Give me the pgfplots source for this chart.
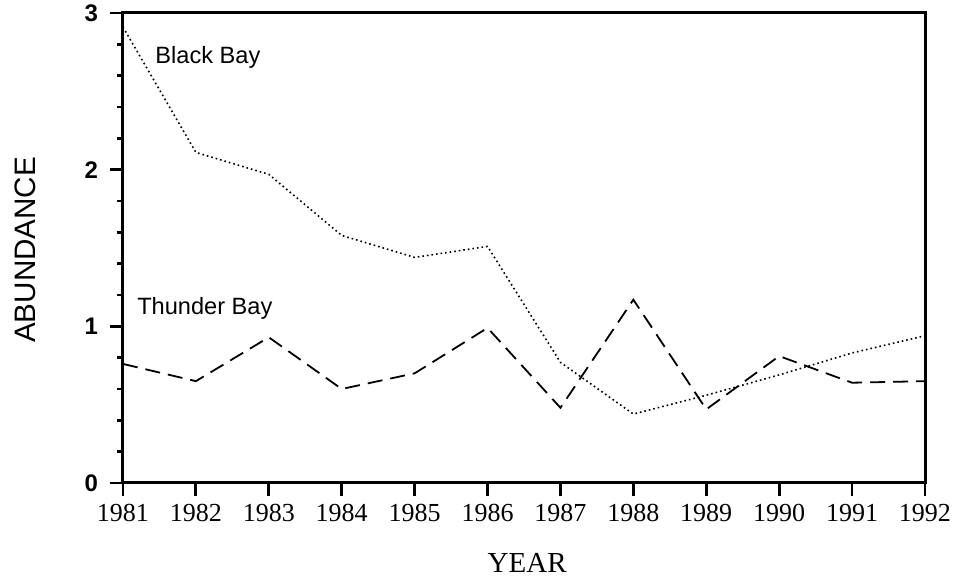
\documentclass[border=0pt]{standalone}
\usepackage{pgfplots}
\pgfplotsset{compat=1.18}
\usepackage{fontspec}
\setmainfont{Liberation Sans}
\newfontfamily\timesfont{Liberation Serif}
\begin{document}
\begin{tikzpicture}
\useasboundingbox (-61.5pt,-47pt) rectangle (415.5pt,241.5pt);
\begin{axis}[
  at={(0,0)}, anchor=south west,
  scale only axis,
  width=401pt, height=235pt,
  xmin=1981, xmax=1992, ymin=0, ymax=3,
  xtick={1981,...,1992},
  ytick={0,1,2,3},
  minor y tick num=4,
  xtick pos=left, ytick pos=left,
  tick align=outside,
  major tick length=6.5pt,
  minor tick length=3pt,
  axis line style={line width=1.5pt},
  every tick/.style={black, line width=1.4pt},
  /pgf/number format/assume math mode=true,
  xticklabel={\pgfmathprintnumber[1000 sep={}]{\tick}},
  xticklabel style={font=\timesfont\fontsize{13pt}{15pt}\selectfont, yshift=-0.5pt},
  yticklabel style={font=\bfseries\fontsize{12pt}{14pt}\selectfont, xshift=-2.5pt},
  xlabel={YEAR},
  xlabel style={font=\timesfont\fontsize{14.5pt}{16pt}\selectfont, at={(axis description cs:0.504,0)}, anchor=center, yshift=-40pt},
  ylabel={ABUNDANCE},
  ylabel style={font=\fontsize{14.8pt}{16pt}\selectfont, at={(axis description cs:0,0.496)}, anchor=center, yshift=49pt},
  clip=false,
]
% Black Bay (dotted)
\addplot[black, line width=0.8pt, dash pattern=on 0.8pt off 1.5pt] coordinates {
(1981,2.91) (1982,2.11) (1983,1.97) (1984,1.58) (1985,1.44) (1986,1.51)
(1987,0.77) (1988,0.44) (1989,0.56) (1990,0.69) (1991,0.83) (1992,0.94)};
% Thunder Bay (dashed)
\addplot[black, line width=0.9pt, dash pattern=on 7.5pt off 4pt] coordinates {
(1981,0.76) (1982,0.65) (1983,0.93) (1984,0.60) (1985,0.70) (1986,0.99)
(1987,0.48) (1988,1.17) (1989,0.47) (1990,0.81) (1991,0.64) (1992,0.65)};
\node[anchor=base west, inner sep=0pt, font=\fontsize{11.8pt}{13pt}\selectfont] at (axis cs:1981.44,2.675) {Black Bay};
\node[anchor=base west, inner sep=0pt, font=\fontsize{11.8pt}{13pt}\selectfont] at (axis cs:1981.19,1.075) {Thunder Bay};
\end{axis}
\end{tikzpicture}
\end{document}
